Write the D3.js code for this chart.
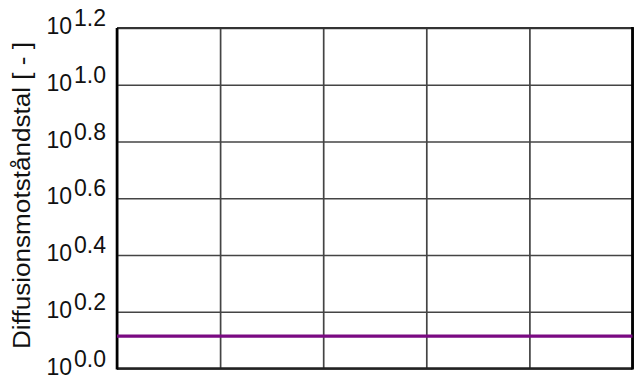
<!DOCTYPE html>
<html>
<head>
<meta charset="utf-8">
<script src="https://cdn.jsdelivr.net/npm/d3@7"></script>
<style>
  html, body { margin: 0; padding: 0; background: #fff; }
  svg { display: block; }
  text { font-family: "Liberation Sans", Arial, Helvetica, sans-serif; fill: #111; }
</style>
</head>
<body>
<svg id="chart" width="641" height="378"></svg>
<script>
// ---- data ----
const yTickExponents = [0.0, 0.2, 0.4, 0.6, 0.8, 1.0, 1.2];
const yTickLabels = ["0.0", "0.2", "0.4", "0.6", "0.8", "1.0", "1.2"];
const xTicks = [0, 1, 2, 3, 4, 5];
const seriesX = [0, 5];
const seriesY = [1.3, 1.3];
const yTitle = "Diffusionsmotståndstal [ - ]";

// ---- layout ----
const svg = d3.select("#chart");
const mLeft = 117, mRight = 632.5, mTop = 28, mBottom = 368.5;

const x = d3.scaleLinear().domain([0, 5]).range([mLeft, mRight]);
const y = d3.scaleLog().domain([1, Math.pow(10, 1.2)]).range([mBottom, mTop]);

// gridlines horizontal
svg.append("g")
  .attr("transform", `translate(${mLeft},0)`)
  .call(d3.axisLeft(y)
    .tickValues(yTickExponents.map(e => Math.pow(10, e)))
    .tickSize(-(mRight - mLeft))
    .tickFormat(""))
  .call(g => g.select(".domain").remove())
  .call(g => g.selectAll("line").attr("stroke", "#444").attr("stroke-width", 1.7));

// gridlines vertical
svg.append("g")
  .attr("transform", `translate(0,${mBottom})`)
  .call(d3.axisBottom(x)
    .tickValues(xTicks)
    .tickSize(-(mBottom - mTop))
    .tickFormat(""))
  .call(g => g.select(".domain").remove())
  .call(g => g.selectAll("line").attr("stroke", "#444").attr("stroke-width", 1.7));

// frame: top/bottom dark, left/right black
svg.append("line").attr("x1", mLeft).attr("x2", mRight).attr("y1", mTop).attr("y2", mTop)
  .attr("stroke", "#333").attr("stroke-width", 2.2);
svg.append("line").attr("x1", mLeft).attr("x2", mRight).attr("y1", mBottom).attr("y2", mBottom)
  .attr("stroke", "#222").attr("stroke-width", 2.4);
svg.append("line").attr("x1", mLeft).attr("x2", mLeft).attr("y1", mTop).attr("y2", mBottom + 1)
  .attr("stroke", "#000").attr("stroke-width", 2.6);
svg.append("line").attr("x1", mRight).attr("x2", mRight).attr("y1", mTop - 1).attr("y2", mBottom + 1)
  .attr("stroke", "#000").attr("stroke-width", 2.8);

// series line
const line = d3.line().x((d, i) => x(seriesX[i])).y(d => y(d));
svg.append("path")
  .datum(seriesY)
  .attr("d", line)
  .attr("fill", "none")
  .attr("stroke", "#7a0a82")
  .attr("stroke-width", 3.2);

// tick labels 10^e
const lbl = svg.append("g");
yTickExponents.forEach((e, i) => {
  const yy = y(Math.pow(10, e));
  const t = lbl.append("text")
    .attr("x", 106)
    .attr("y", yy + 6)
    .attr("text-anchor", "end")
    .style("font-size", "23px");
  t.append("tspan").text("10");
  t.append("tspan").attr("dy", -8).attr("dx", 2).text(yTickLabels[i]);
});

// y title
svg.append("text")
  .attr("transform", `translate(30,${(349 + 42) / 2}) rotate(-90)`)
  .attr("text-anchor", "middle")
  .style("font-size", "23px")
  .attr("textLength", 307)
  .attr("lengthAdjust", "spacingAndGlyphs")
  .text(yTitle);
</script>
</body>
</html>
